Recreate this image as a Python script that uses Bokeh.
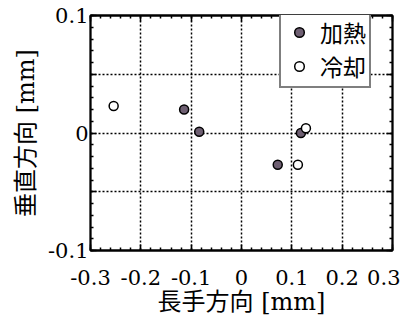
import numpy as np
from bokeh.plotting import figure
from bokeh.models import Range1d, FixedTicker, LinearAxis, Legend, LegendItem
from bokeh.embed import file_html
from bokeh.resources import INLINE

# data
heat_x = [-0.114, -0.084, 0.118, 0.072]
heat_y = [0.020, 0.001, 0.000, -0.027]
cool_x = [-0.254, 0.128, 0.112]
cool_y = [0.023, 0.004, -0.027]

x_ticks = [-0.3, -0.2, -0.1, 0.0, 0.1, 0.2, 0.3]
x_labels = ["-0.3", "-0.2", "-0.1", "0", "0.1", "0.2", "0.3"]
y_ticks = [-0.1, -0.05, 0.0, 0.05, 0.1]
y_labels = ["-0.1", "", "0", "", "0.1"]
x_minor = [round(v, 2) for v in np.arange(-0.3, 0.3001, 0.02)]
y_minor = [round(v, 2) for v in np.arange(-0.1, 0.1001, 0.01)]

label_font = "'DejaVu Serif', 'Noto Sans CJK JP'"
tick_font = "DejaVu Serif"

p = figure(width=400, height=322, output_backend="svg", toolbar_location=None,
           x_range=Range1d(-0.3, 0.3), y_range=Range1d(-0.1, 0.1),
           min_border_left=90, min_border_right=8, min_border_top=15, min_border_bottom=72,
           background_fill_color="white", border_fill_color="white")

p.outline_line_color = "black"
p.outline_line_width = 1.8
p.outline_line_alpha = 1.0

def style_axis(ax, ticks, minor, labels, show_labels):
    ax.ticker = FixedTicker(ticks=ticks, minor_ticks=minor)
    ax.major_tick_in = 6
    ax.major_tick_out = 0
    ax.minor_tick_in = 3
    ax.minor_tick_out = 0
    ax.major_tick_line_color = "black"
    ax.minor_tick_line_color = "black"
    ax.major_tick_line_width = 1.5
    ax.minor_tick_line_width = 1.5
    ax.axis_line_color = "black"
    ax.axis_line_width = 1.8
    if show_labels:
        ax.major_label_overrides = {t: l for t, l in zip(ticks, labels)}
        ax.major_label_text_font = tick_font
        ax.major_label_text_font_size = "21px"
        ax.major_label_text_color = "black"
    else:
        ax.major_label_text_color = None
        ax.major_label_text_font_size = "4px"
        ax.major_label_standoff = 0

xa = p.xaxis[0]
ya = p.yaxis[0]
style_axis(xa, x_ticks, x_minor, x_labels, True)
style_axis(ya, y_ticks, y_minor, y_labels, True)
xa.major_label_standoff = 19
ya.major_label_standoff = 2

xa.axis_label = "長手方向 [mm]"
ya.axis_label = "垂直方向 [mm]"
for ax in (xa, ya):
    ax.axis_label_text_font = label_font
    ax.axis_label_text_font_size = "24px"
    ax.axis_label_text_font_style = "normal"
    ax.axis_label_text_color = "black"
xa.axis_label_standoff = 0
ya.axis_label_standoff = 5

top_ax = LinearAxis()
right_ax = LinearAxis()
style_axis(top_ax, x_ticks, x_minor, x_labels, False)
style_axis(right_ax, y_ticks, y_minor, y_labels, False)
p.add_layout(top_ax, "above")
p.add_layout(right_ax, "right")

for g in (p.xgrid[0], p.ygrid[0]):
    g.grid_line_color = "black"
    g.grid_line_width = 1.5
    g.grid_line_dash = "2 2"
p.xgrid[0].ticker = FixedTicker(ticks=x_ticks)
p.ygrid[0].ticker = FixedTicker(ticks=y_ticks)

r_heat = p.scatter(heat_x, heat_y, size=9, marker="circle",
                   fill_color="#6e5f72", line_color="black", line_width=1.5)
r_cool = p.scatter(cool_x, cool_y, size=9, marker="circle",
                   fill_color="white", line_color="black", line_width=1.5)

legend = Legend(items=[LegendItem(label="加熱", renderers=[r_heat]),
                       LegendItem(label="冷却", renderers=[r_cool])],
                location=(189, 162))
legend.label_text_font = "Noto Sans CJK JP"
legend.label_text_font_size = "23px"
legend.label_text_color = "black"
legend.border_line_color = "black"
legend.border_line_width = 2.5
legend.background_fill_color = "white"
legend.background_fill_alpha = 1.0
legend.glyph_width = 30
legend.glyph_height = 24
legend.label_standoff = 6
legend.padding = 3
legend.spacing = 0
legend.margin = 0
legend.label_height = 24
p.add_layout(legend, "center")

open("out.html", "w").write(file_html(p, INLINE))
